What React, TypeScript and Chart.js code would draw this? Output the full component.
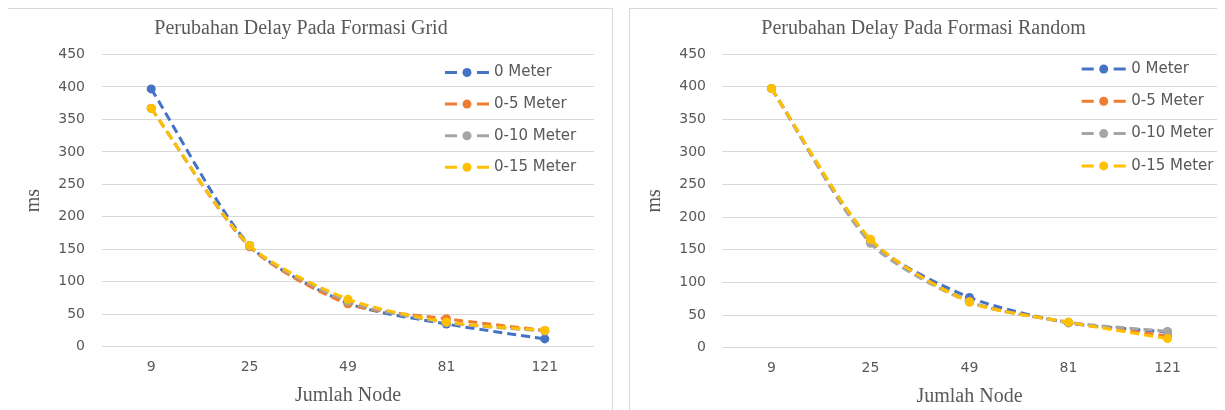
import React, { useEffect, useRef } from "react";
import { Chart, registerables } from "chart.js";

Chart.register(...registerables);

// ---------- data ----------
const categories = ["9", "25", "49", "81", "121"];
const seriesLabels = ["0 Meter", "0-5 Meter", "0-10 Meter", "0-15 Meter"];
const seriesColors = ["#4472C4", "#ED7D31", "#A5A5A5", "#FFC000"];

const gridTitle = "Perubahan Delay Pada Formasi Grid";
const randomTitle = "Perubahan Delay Pada Formasi Random";
const xAxisTitle = "Jumlah Node";
const yAxisTitle = "ms";

const grid0 = [397, 156, 67, 35, 12];
const grid5 = [367, 154, 66, 43, 25];
const grid10 = [367, 155, 70, 37, 24];
const grid15 = [367, 156, 73, 38, 25];

const random0 = [397, 163, 77, 38, 24];
const random5 = [397, 165, 71, 39, 18];
const random10 = [397, 160, 70, 39, 25];
const random15 = [397, 166, 70, 39, 14];

const yMin = 0;
const yMax = 450;
const yStep = 50;

// ---------- styling ----------
const TEXT = "#595959";
const GRID = "#D9D9D9";
const SANS = "'DejaVu Sans', sans-serif";
const SERIF = "'Liberation Serif', 'Times New Roman', serif";

const legendPlugin = {
  id: "excelLegend",
  afterDatasetsDraw(chart: any, _args: any, opts: any) {
    const ctx = chart.ctx as CanvasRenderingContext2D;
    ctx.save();
    chart.data.datasets.forEach((ds: any, i: number) => {
      const x = opts.x;
      const y = opts.y + i * opts.step;
      ctx.setLineDash([]);
      ctx.lineCap = "butt";
      ctx.strokeStyle = ds.borderColor;
      ctx.lineWidth = 3;
      ctx.beginPath();
      ctx.moveTo(x, y);
      ctx.lineTo(x + 12, y);
      ctx.moveTo(x + 32, y);
      ctx.lineTo(x + 44, y);
      ctx.stroke();
      ctx.fillStyle = ds.borderColor;
      ctx.beginPath();
      ctx.arc(x + 22, y, 4.5, 0, Math.PI * 2);
      ctx.fill();
      ctx.fillStyle = TEXT;
      ctx.font = `15px ${SANS}`;
      ctx.textAlign = "left";
      ctx.textBaseline = "middle";
      ctx.fillText(ds.label, x + opts.textGap, y);
    });
    ctx.restore();
  },
};

type PanelProps = {
  title: string;
  series: number[][];
  width: number;
  height: number;
  yWidth: number;
  yLabelPad: number;
  yTitlePad: number;
  xHeight: number;
  xTitlePad: number;
  rightPad: number;
  titleTop: number;
  titleBottom: number;
  legend: { x: number; y: number; step: number; textGap: number };
};

function ChartPanel(p: PanelProps) {
  const ref = useRef<HTMLCanvasElement | null>(null);
  useEffect(() => {
    if (!ref.current) return;
    const chart = new Chart(ref.current, {
      type: "line",
      data: {
        labels: categories,
        datasets: p.series.map((vals, i) => ({
          label: seriesLabels[i],
          data: vals,
          borderColor: seriesColors[i],
          backgroundColor: seriesColors[i],
          borderWidth: 3,
          borderDash: [9, 5],
          borderCapStyle: "butt",
          tension: 0.25,
          pointRadius: 4.5,
          pointBorderWidth: 0,
          pointBackgroundColor: seriesColors[i],
          pointBorderColor: seriesColors[i],
          fill: false,
          order: 3 - i,
        })),
      },
      options: {
        responsive: false,
        animation: false,
        devicePixelRatio: 1,
        layout: { padding: { left: 0, top: 0, right: p.rightPad, bottom: 0 } },
        plugins: {
          legend: { display: false },
          tooltip: { enabled: false },
          title: {
            display: true,
            text: p.title,
            color: TEXT,
            font: { family: SERIF, size: 20, weight: "normal", lineHeight: 1.2 },
            padding: { top: p.titleTop, bottom: p.titleBottom },
          },
          excelLegend: p.legend,
        } as any,
        scales: {
          x: {
            offset: true,
            grid: { display: false, drawTicks: false, offset: true },
            border: { display: false },
            ticks: { color: TEXT, font: { family: SANS, size: 14 }, padding: 12 },
            title: {
              display: true,
              text: xAxisTitle,
              color: TEXT,
              font: { family: SERIF, size: 20, lineHeight: 1.2 },
              padding: { top: 0, bottom: p.xTitlePad },
            },
            afterFit: (s: any) => {
              s.height = p.xHeight;
            },
          },
          y: {
            min: yMin,
            max: yMax,
            ticks: {
              stepSize: yStep,
              color: TEXT,
              font: { family: SANS, size: 14 },
              padding: p.yLabelPad,
            },
            grid: { color: GRID, lineWidth: 1, drawTicks: false },
            border: { display: false },
            title: {
              display: true,
              text: yAxisTitle,
              color: TEXT,
              font: { family: SERIF, size: 20, lineHeight: 1.2 },
              padding: { top: p.yTitlePad, bottom: 0 },
            },
            afterFit: (s: any) => {
              s.width = p.yWidth;
            },
          },
        },
      } as any,
      plugins: [legendPlugin as any],
    });
    return () => chart.destroy();
  }, []);
  return (
    <canvas
      ref={ref}
      width={p.width}
      height={p.height}
      style={{ display: "block", width: p.width, height: p.height }}
    />
  );
}

export default function App() {
  const panelBase: React.CSSProperties = {
    position: "absolute",
    top: 0,
    height: 410,
    border: `1px solid ${GRID}`,
    boxSizing: "border-box",
    background: "#fff",
  };
  return (
    <div
      style={{
        position: "relative",
        width: 1217,
        height: 402,
        overflow: "hidden",
        background: "#fff",
      }}
    >
      <div style={{ ...panelBase, left: -1, width: 606 }}>
        <ChartPanel
          title={gridTitle}
          series={[grid0, grid5, grid10, grid15]}
          width={604}
          height={400}
          yWidth={94}
          yLabelPad={17}
          yTitlePad={14}
          xHeight={62.3}
          xTitlePad={1}
          rightPad={18}
          titleTop={8}
          titleBottom={13.5}
          legend={{ x: 437, y: 63.5, step: 31.6, textGap: 49 }}
        />
      </div>
      <div style={{ ...panelBase, left: 621, width: 620 }}>
        <ChartPanel
          title={randomTitle}
          series={[random0, random5, random10, random15]}
          width={598}
          height={400}
          yWidth={92}
          yLabelPad={16}
          yTitlePad={13}
          xHeight={61.3}
          xTitlePad={0}
          rightPad={11}
          titleTop={8}
          titleBottom={13}
          legend={{ x: 451.7, y: 60, step: 32.3, textGap: 49.5 }}
        />
      </div>
    </div>
  );
}
